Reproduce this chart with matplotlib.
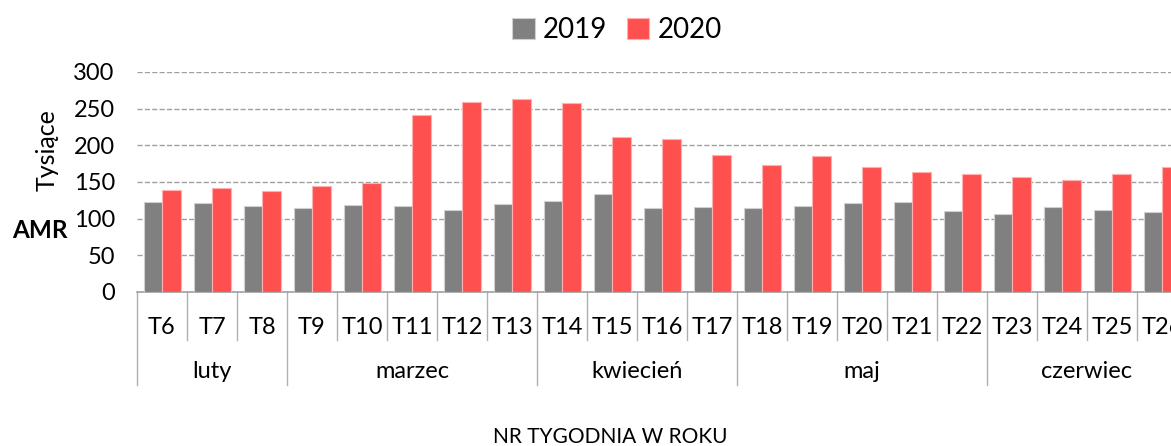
import matplotlib.pyplot as plt
import matplotlib.transforms as mtransforms
import numpy as np

# data (thousands)
weeks = ['T6', 'T7', 'T8', 'T9', 'T10', 'T11', 'T12', 'T13', 'T14', 'T15', 'T16',
         'T17', 'T18', 'T19', 'T20', 'T21', 'T22', 'T23', 'T24', 'T25', 'T26']
amr_2019 = [123, 122, 117, 115, 119, 117, 112, 120, 124, 133, 115,
            116, 114, 117, 121, 123, 111, 107, 116, 112, 109]
amr_2020 = [139, 142, 138, 144, 148, 241, 259, 263, 258, 212, 208,
            187, 173, 185, 170, 163, 161, 157, 153, 161, 170]
months = ['luty', 'marzec', 'kwiecień', 'maj', 'czerwiec']
month_weeks = [3, 5, 4, 5, 4]

plt.rcParams['font.family'] = ['Lato', 'DejaVu Sans']

fig = plt.figure(figsize=(11.71, 4.46), dpi=100)
# axes run past the right edge, like the cropped original
ax = fig.add_axes([137 / 1171, 154 / 446, 1050 / 1171, 220 / 446])

x = np.arange(len(weeks))
w = 0.37
ax.bar(x - w / 2, amr_2019, w, color='#808080', edgecolor='#d0d0d0', linewidth=0.8,
       label='2019', zorder=3)
ax.bar(x + w / 2, amr_2020, w, color='#ff5050', edgecolor='#ffb0b0', linewidth=0.8,
       label='2020', zorder=3)

ax.set_xlim(-0.5, len(weeks) - 0.5)
ax.set_ylim(0, 300)
ax.set_yticks(range(0, 301, 50))
ax.tick_params(axis='y', length=0, labelsize=17, pad=16)
ax.yaxis.grid(True, linestyle='--', color='#a0a0a0', linewidth=1, zorder=0)
for s in ['top', 'right', 'left']:
    ax.spines[s].set_visible(False)
ax.spines['bottom'].set_color('#a0a0a0')
ax.spines['bottom'].set_linewidth(1.2)

# week labels
ax.set_xticks(x)
ax.set_xticklabels(weeks)
ax.tick_params(axis='x', length=0, labelsize=17, pad=18)

# separators for the two-level axis
trans = mtransforms.blended_transform_factory(ax.transData, ax.transAxes)
week_low = -48 / 220
month_low = -93 / 220
month_edges = np.concatenate([[0], np.cumsum(month_weeks)]) - 0.5
for b in np.arange(len(weeks) + 1) - 0.5:
    low = month_low if b in month_edges else week_low
    ax.plot([b, b], [0, low], transform=trans, color='#b0b0b0', lw=1, clip_on=False)

for i, m in enumerate(months):
    c = (month_edges[i] + month_edges[i + 1]) / 2
    ax.text(c, -79 / 220, m, transform=trans, ha='center', va='center', fontsize=17)

fig.text(610 / 1171, 1 - 437 / 446, 'NR TYGODNIA W ROKU', ha='center', va='center', fontsize=15)
fig.text(47 / 1171, 1 - 150 / 446, 'Tysiące', rotation=90, ha='center', va='center', fontsize=18)
fig.text(40 / 1171, 1 - 230 / 446, 'AMR', ha='center', va='center', fontsize=17.5, fontweight='bold')

fig.legend(loc='center', bbox_to_anchor=(617 / 1171, 1 - 30 / 446), ncol=2, frameon=False,
           fontsize=20, handlelength=0.8, handleheight=0.8, handletextpad=0.3, columnspacing=0.7)

fig.savefig('out.png', dpi=100)
